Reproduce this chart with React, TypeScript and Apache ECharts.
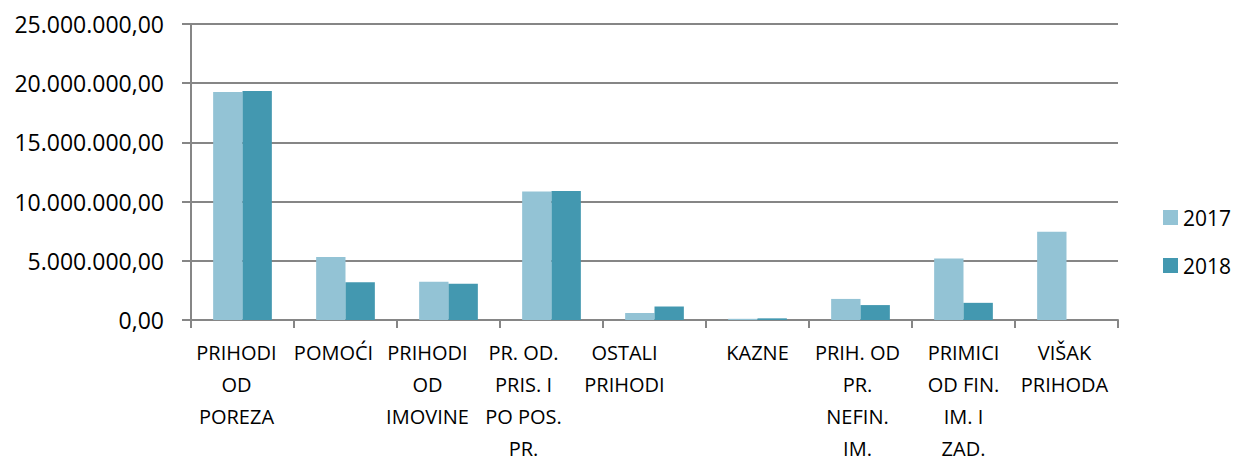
import React, { useEffect, useRef } from "react";
import * as echarts from "echarts";

const categories = [
  "PRIHODI\nOD\nPOREZA",
  "POMOĆI",
  "PRIHODI\nOD\nIMOVINE",
  "PR. OD.\nPRIS. I\nPO POS.\nPR.",
  "OSTALI\nPRIHODI",
  "KAZNE",
  "PRIH. OD\nPR.\nNEFIN.\nIM.",
  "PRIMICI\nOD FIN.\nIM. I\nZAD.",
  "VIŠAK\nPRIHODA",
];
const values2017 = [19260000, 5330000, 3240000, 10860000, 590000, 100000, 1780000, 5190000, 7450000];
const values2018 = [19350000, 3180000, 3070000, 10890000, 1140000, 140000, 1260000, 1450000, 0];
const seriesNames = ["2017", "2018"];
// horizontal shift (px, leftwards) of each category label, as in the reference layout
const labelShift = [6, 12, 21, 28, 30, 0, 3, 0, 2];

const fmt = (v: number) => {
  const s = Math.round(v).toString().replace(/\B(?=(\d{3})+(?!\d))/g, ".");
  return s + ",00";
};

export default function App() {
  const ref = useRef<HTMLDivElement>(null);
  useEffect(() => {
    if (!ref.current) return;
    const chart = echarts.init(ref.current, undefined, { renderer: "svg" });
    const font = "'Open Sans', sans-serif";
    chart.setOption({
      animation: false,
      textStyle: { fontFamily: font },
      grid: { left: 191, right: 118, top: 24, bottom: 141, containLabel: false },
      legend: {
        orient: "vertical",
        left: 1158,
        top: 202,
        itemWidth: 15,
        itemHeight: 15,
        itemGap: 27,
        icon: "rect",
        textStyle: { fontSize: 21, color: "#000", fontFamily: font },
        data: seriesNames,
      },
      xAxis: {
        type: "category",
        data: categories.map((c, i) => ({
          value: c,
          textStyle: { padding: [0, labelShift[i] * 2, 0, 0] },
        })),
        axisLine: { lineStyle: { color: "#868686", width: 2 } },
        axisTick: { show: true, length: 8, lineStyle: { color: "#868686", width: 2 } },
        axisLabel: {
          interval: 0,
          margin: 16,
          fontSize: 20,
          lineHeight: 32,
          color: "#000",
          fontFamily: font,
        },
      },
      yAxis: {
        type: "value",
        min: 0,
        max: 25000000,
        interval: 5000000,
        axisLine: { show: true, lineStyle: { color: "#868686", width: 2 } },
        axisTick: { show: true, length: 9, lineStyle: { color: "#868686", width: 2 } },
        splitLine: { lineStyle: { color: "#868686", width: 2 } },
        axisLabel: {
          margin: 27,
          fontSize: 23,
          color: "#000",
          fontFamily: font,
          formatter: (v: number) => fmt(v),
        },
      },
      series: [
        {
          name: seriesNames[0],
          type: "bar",
          data: values2017,
          barGap: "0%",
          barCategoryGap: "43%",
          itemStyle: { color: "#93C3D5" },
        },
        {
          name: seriesNames[1],
          type: "bar",
          data: values2018,
          barGap: "0%",
          barCategoryGap: "43%",
          itemStyle: { color: "#4398B0" },
        },
      ],
    });
    return () => chart.dispose();
  }, []);
  return (
    <div
      ref={ref}
      style={{ position: "absolute", left: 0, top: 0, width: 1236, height: 464, overflow: "hidden" }}
    />
  );
}
